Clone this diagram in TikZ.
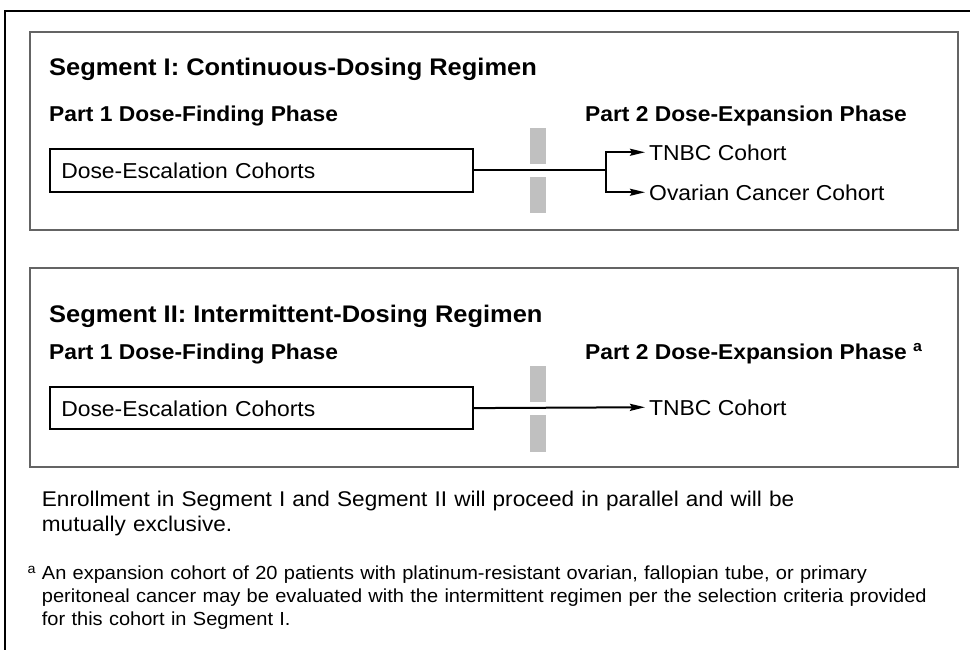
\documentclass[tikz,border=0pt]{standalone}
\usepackage{fontspec}
\setmainfont{Liberation Sans}[FakeStretch=1.06]
\usetikzlibrary{arrows.meta}
\definecolor{barg}{RGB}{192,192,192}
\definecolor{segframe}{RGB}{100,100,100}
\begin{document}
\begin{tikzpicture}[x=1pt,y=-1pt,
  segbox/.style={draw=segframe, line width=1.6pt, anchor=north west, minimum width=928pt, inner sep=0pt},
  dosebox/.style={draw=black, line width=1.8pt, anchor=north west, minimum width=422.7pt, minimum height=42.4pt,
     text width=400pt, align=left, inner xsep=11.35pt, inner ysep=0pt, text height=16pt, text depth=0pt,
     font=\fontsize{21.6}{25}\selectfont},
  segtitle/.style={anchor=base west, inner sep=0pt, font=\fontsize{24}{28}\selectfont\bfseries},
  parthead/.style={anchor=base west, inner sep=0pt, font=\fontsize{21.5}{25}\selectfont\bfseries},
  cohort/.style={anchor=base west, inner xsep=4pt, inner ysep=0pt, text height=15.5pt, text depth=0pt,
     font=\fontsize{21.6}{25}\selectfont},
  gbar/.style={fill=barg, draw=none, minimum width=16pt, inner sep=0pt},
  conn/.style={line width=2pt},
  tip/.tip={Stealth[length=15pt,width=7pt,inset=2pt]},
  fnote/.style={anchor=base west, inner sep=0pt, align=left}
]
\useasboundingbox (0,0) rectangle (970,649);
% outer frame
\draw[line width=2.3pt] (5.2,660) -- (5.2,11.2) -- (985,11.2);

% Segment I
\node[segbox, minimum height=198pt] (seg1) at (29,31) {};
\node[segtitle] (t1) at (49,75) {Segment I: Continuous-Dosing Regimen};
\node[parthead] (p11) at (49,121.5) {Part 1 Dose-Finding Phase};
\node[parthead] (p12) at (585,121.5) {Part 2 Dose-Expansion Phase};
\node[dosebox] (dose1) at (49,148.3) {Dose-Escalation Cohorts};
\node[gbar, minimum height=36pt] (b1a) at (538,146.3) {};
\node[gbar, minimum height=36.6pt] (b1b) at (538,195) {};
\node[cohort] (tnbc1) at (645,160) {TNBC Cohort};
\node[cohort] (ov1) at (645,200) {Ovarian Cancer Cohort};
\path (dose1.east) -- ++(132.3,0) coordinate (j1);
\draw[conn] (dose1.east) -- (j1);
\draw[conn, tip-tip] (tnbc1.west) -| (j1) |- (ov1.west);

% Segment II
\node[segbox, minimum height=199pt] (seg2) at (29,267) {};
\node[segtitle] (t2) at (49,322.7) {Segment II: Intermittent-Dosing Regimen};
\node[parthead] (p21) at (49,359.3) {Part 1 Dose-Finding Phase};
\node[parthead] (p22) at (585,359.3) {Part 2 Dose-Expansion Phase \textsuperscript{a}};
\node[dosebox] (dose2) at (49,386) {Dose-Escalation Cohorts};
\node[gbar, minimum height=36.3pt] (b2a) at (538,384.15) {};
\node[gbar, minimum height=36.7pt] (b2b) at (538,433.35) {};
\node[cohort] (tnbc2) at (645,415) {TNBC Cohort};
\draw[conn, -tip] (dose2.east) -- (tnbc2.west);

% notes
\node[fnote, text width=920pt, font=\fontsize{21.3}{25}\selectfont] (enroll) at (41.7,506)
  {Enrollment in Segment I and Segment II will proceed in parallel and will be\\ mutually exclusive.};
\node[fnote, font=\fontsize{13.5}{14}\selectfont] (fnmark) at (27.5,573) {a};
\node[fnote, text width=925pt, font=\fontsize{18.9}{23}\selectfont] (fn) at (41.7,579)
  {An expansion cohort of 20 patients with platinum-resistant ovarian, fallopian tube, or primary\\
   peritoneal cancer may be evaluated with the intermittent regimen per the selection criteria provided\\
   for this cohort in Segment I.};
\end{tikzpicture}
\end{document}
